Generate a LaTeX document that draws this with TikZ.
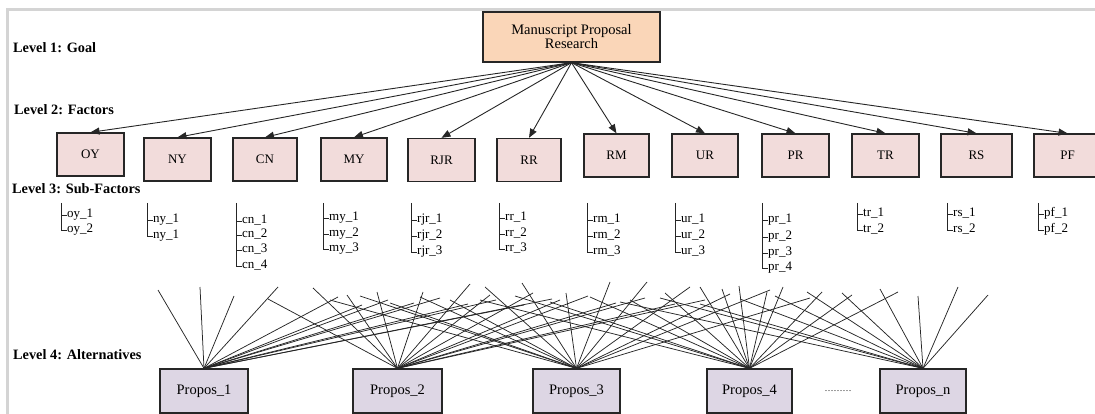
\documentclass[tikz,border=0pt]{standalone}
\usepackage{fontspec}
\setmainfont{Liberation Serif}
\usetikzlibrary{arrows.meta}
\definecolor{goalfill}{RGB}{250,214,184}
\definecolor{factorfill}{RGB}{242,220,219}
\definecolor{altfill}{RGB}{221,214,228}
\definecolor{framegray}{RGB}{212,212,212}
\definecolor{inkgray}{RGB}{38,38,38}
\tikzset{
  box/.style={draw=inkgray, line width=1.3pt, inner sep=0pt, align=center},
  goalbox/.style={box, fill=goalfill, minimum width=177pt, minimum height=50pt,
    font=\fontsize{14.5}{14}\selectfont},
  factorbox/.style={box, fill=factorfill, minimum height=43pt,
    font=\fontsize{13}{14}\selectfont},
  altbox/.style={box, fill=altfill, minimum height=44pt,
    font=\fontsize{14.5}{16}\selectfont},
  levellabel/.style={anchor=west, inner sep=0pt, font=\bfseries\fontsize{14.3}{16}\selectfont},
  subitem/.style={anchor=west, inner sep=0pt, text height=7pt, text depth=2.5pt,
    font=\fontsize{13}{14}\selectfont},
  treeline/.style={draw=inkgray, line width=0.8pt},
  goalarrow/.style={draw=inkgray, line width=0.9pt, -{Triangle[length=9pt,width=7pt]}},
  fanline/.style={draw=inkgray, line width=0.75pt},
}
% sub-factor list: #1 prefix, #2 x of the tree stem, #3 list of y/label
\newcommand\subtree[3]{%
  \coordinate (#1-top) at (#2,203);
  \foreach \yy/\lab [count=\k] in {#3} {
    \node[subitem] (#1-\k) at (#2+6,\yy) {\lab};
    \draw[treeline] (#1-top |- #1-\k.west) -- (#1-\k.west);
    \xdef\lastitem{\k}
  }
  \draw[treeline] (#1-top) -- (#1-top |- #1-\lastitem.west);
}
% fan of lines rising from an alternative: #1 node name, #2 list of x/y end points
\newcommand\fan[2]{%
  \foreach \ex/\ey [count=\k] in {#2} {
    \coordinate (#1-e\k) at (\ex,\ey);
    \draw[fanline] (#1.north) -- (#1-e\k);
  }
}
\begin{document}
\begin{tikzpicture}[x=1pt,y=-1pt]
\useasboundingbox (0,0) rectangle (1095,414);
% frame
\draw[framegray, line width=3pt] (7,414) -- (7,9.5) -- (1095,9.5);

% level captions
\node[levellabel] (l1) at (13,48) {Level 1: Goal};
\node[levellabel] (l2) at (14,110) {Level 2: Factors};
\node[levellabel] (l3) at (12,189) {Level 3: Sub-Factors};
\node[levellabel] (l4) at (13,355) {Level 4: Alternatives};

% goal
\node[goalbox] (goal) at (571.5,37) {Manuscript Proposal\\Research};

% factors
\node[factorbox, minimum width=67pt] (oy)  at (90.5,154.5) {OY};
\node[factorbox, minimum width=67pt] (ny)  at (177.5,159.5) {NY};
\node[factorbox, minimum width=64pt] (cn)  at (265,159.5) {CN};
\node[factorbox, minimum width=66pt] (my)  at (354,159.5) {MY};
\node[factorbox, minimum width=67pt] (rjr) at (441.5,160) {RJR};
\node[factorbox, minimum width=64pt] (rr)  at (529,160) {RR};
\node[factorbox, minimum width=65pt] (rm)  at (616.5,155.5) {RM};
\node[factorbox, minimum width=66pt] (ur)  at (705,155.5) {UR};
\node[factorbox, minimum width=67pt] (pr)  at (795.5,155.5) {PR};
\node[factorbox, minimum width=67pt] (tr)  at (885.5,155.5) {TR};
\node[factorbox, minimum width=71pt] (rs)  at (976.5,155.5) {RS};
\node[factorbox, minimum width=67pt] (pf)  at (1067.5,155.5) {PF};

\foreach \f in {oy,ny,cn,my,rjr,rr,rm,ur,pr,tr,rs,pf}
  \draw[goalarrow] (goal.south) -- (\f.north);

% sub-factors
\subtree{soy}{61}{215/oy\_1, 230/oy\_2}
\subtree{sny}{147}{220/ny\_1, 236/ny\_1}
\subtree{scn}{236}{221/cn\_1, 235/cn\_2, 250/cn\_3, 266/cn\_4}
\subtree{smy}{323}{218/my\_1, 234/my\_2, 249/my\_3}
\subtree{srjr}{411}{220/rjr\_1, 236/rjr\_2, 252/rjr\_3}
\subtree{srr}{499}{218/rr\_1, 234/rr\_2, 249/rr\_3}
\subtree{srm}{587}{220/rm\_1, 236/rm\_2, 252/rm\_3}
\subtree{sur}{675}{220/ur\_1, 236/ur\_2, 252/ur\_3}
\subtree{spr}{762}{220/pr\_1, 237/pr\_2, 253/pr\_3, 268/pr\_4}
\subtree{str}{857}{214/tr\_1, 230/tr\_2}
\subtree{srs}{947}{214/rs\_1, 230/rs\_2}
\subtree{spf}{1038}{214/pf\_1, 230/pf\_2}

% alternatives
\node[altbox, minimum width=88pt] (p1) at (204,391) {Propos\_1};
\node[altbox, minimum width=89pt] (p2) at (397.5,391) {Propos\_2};
\node[altbox, minimum width=87pt] (p3) at (576.5,391) {Propos\_3};
\node[altbox, minimum width=85pt] (p4) at (749.5,391) {Propos\_4};
\node[altbox, minimum width=86pt] (pn) at (923,391) {Propos\_n};
\node[inner sep=0pt, font=\fontsize{9}{10}\selectfont] (dots) at (838,391) {………};

% links rising from the alternatives
\fan{p1}{158/290, 200/287, 234/296, 278/287, 338/297, 362/305, 388/300, 414/303,
  440/298, 468/304, 496/300, 524/305, 552/299}
\fan{p2}{268/299, 313/288, 347/295, 377/292, 423/292, 470/284, 490/295, 533/293,
  560/300, 588/296, 616/303, 645/298, 675/304, 705/300}
\fan{p3}{330/300, 360/296, 390/303, 420/297, 450/300, 485/287, 522/283, 566/293,
  610/282, 647/282, 690/287, 730/294, 770/290, 810/298}
\fan{p4}{480/300, 515/296, 550/302, 590/297, 630/300, 665/293, 700/287, 722/289,
  739/286, 767/292, 783/287, 822/292, 852/295, 898/292}
\fan{pn}{620/302, 660/298, 700/304, 740/299, 775/296, 807/292, 842/293, 880/289,
  918/296, 958/287, 988/295}
\end{tikzpicture}
\end{document}
